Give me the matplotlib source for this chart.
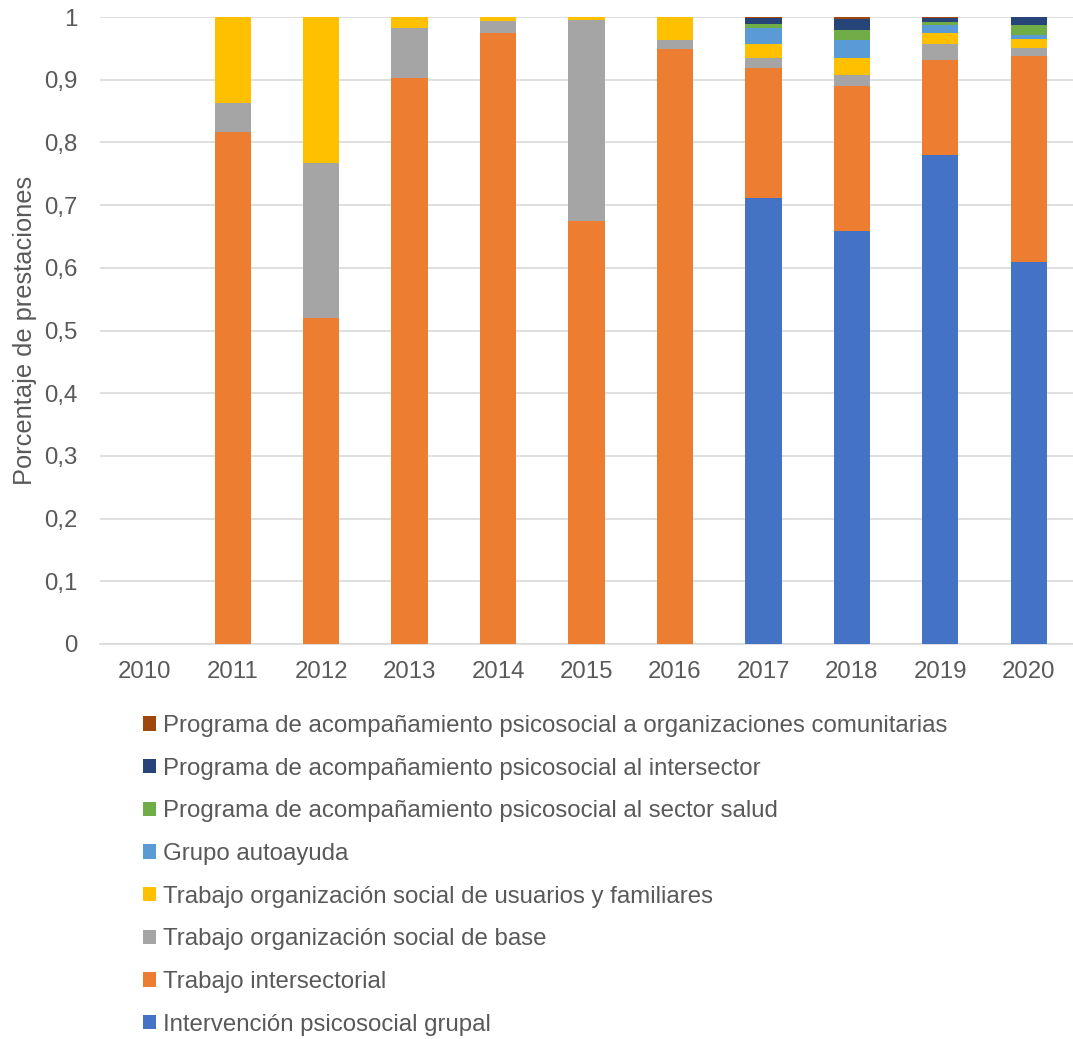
import numpy as np
import matplotlib
matplotlib.use("Agg")
import matplotlib.pyplot as plt

plt.rcParams['font.family'] = ['Liberation Sans', 'DejaVu Sans']

years = ['2010', '2011', '2012', '2013', '2014', '2015', '2016', '2017', '2018', '2019', '2020']

# share of each activity type per year (stacked bottom to top)
grupal       = [0, 0,     0,     0,     0,     0,     0,     0.711, 0.659, 0.780, 0.609]
intersect    = [0, 0.817, 0.520, 0.903, 0.975, 0.675, 0.949, 0.208, 0.231, 0.152, 0.329]
base         = [0, 0.046, 0.247, 0.079, 0.019, 0.320, 0.015, 0.016, 0.017, 0.025, 0.013]
usuarios     = [0, 0.137, 0.233, 0.018, 0.006, 0.005, 0.036, 0.022, 0.028, 0.017, 0.014]
autoayuda    = [0, 0,     0,     0,     0,     0,     0,     0.025, 0.028, 0.014, 0.006]
salud        = [0, 0,     0,     0,     0,     0,     0,     0.007, 0.016, 0.004, 0.016]
intersector  = [0, 0,     0,     0,     0,     0,     0,     0.009, 0.018, 0.0065, 0.013]
comunitarias = [0, 0,     0,     0,     0,     0,     0,     0.002, 0.003, 0.0015, 0.0]

series = [
    ('Intervención psicosocial grupal', grupal, '#4472C4'),
    ('Trabajo intersectorial', intersect, '#ED7D31'),
    ('Trabajo organización social de base', base, '#A5A5A5'),
    ('Trabajo organización social de usuarios y familiares', usuarios, '#FFC000'),
    ('Grupo autoayuda', autoayuda, '#5B9BD5'),
    ('Programa de acompañamiento psicosocial al sector salud', salud, '#70AD47'),
    ('Programa de acompañamiento psicosocial al intersector', intersector, '#264478'),
    ('Programa de acompañamiento psicosocial a organizaciones comunitarias', comunitarias, '#9E480E'),
]

FS = 17.3
TXT = '#595959'

fig = plt.figure(figsize=(10.73, 10.39), dpi=100)
ax = fig.add_axes([100 / 1073, 1 - 644 / 1039, 973 / 1073, 627 / 1039])

x = np.arange(len(years))
bottom = np.zeros(len(years))
handles = []
for label, vals, color in series:
    vals = np.array(vals)
    b = ax.bar(x, vals, 0.41, bottom=bottom, color=color, label=label, zorder=3)
    handles.append(b)
    bottom += vals

ax.set_xlim(-0.5, len(years) - 0.5)
ax.set_ylim(0, 1)
ax.set_yticks(np.arange(0, 1.01, 0.1))
ax.set_yticklabels(['0'] + [f'0,{i}' for i in range(1, 10)] + ['1'])
ax.set_xticks(x)
ax.set_xticklabels(years)
ax.tick_params(axis='both', length=0, labelsize=FS, labelcolor=TXT)
ax.tick_params(axis='y', pad=16)
ax.tick_params(axis='x', pad=12)
ax.grid(axis='y', color='#D9D9D9', linewidth=1.2, zorder=0)
for s in ['top', 'right', 'left']:
    ax.spines[s].set_visible(False)
ax.spines['bottom'].set_color('#D9D9D9')
ax.spines['bottom'].set_linewidth(1.2)

ax.set_ylabel('Porcentaje de prestaciones', fontsize=18.3, color=TXT, labelpad=5)

labels = [s[0] for s in series]
leg = fig.legend(handles[::-1], labels[::-1], loc='upper left',
                 bbox_to_anchor=(143 / 1073, 1 - 715 / 1039),
                 frameon=False, fontsize=FS, labelspacing=0.86,
                 handlelength=0.55, handleheight=0.55, handletextpad=0.28,
                 borderaxespad=0, borderpad=0)
for t in leg.get_texts():
    t.set_color(TXT)

fig.savefig('out.png', dpi=100)
